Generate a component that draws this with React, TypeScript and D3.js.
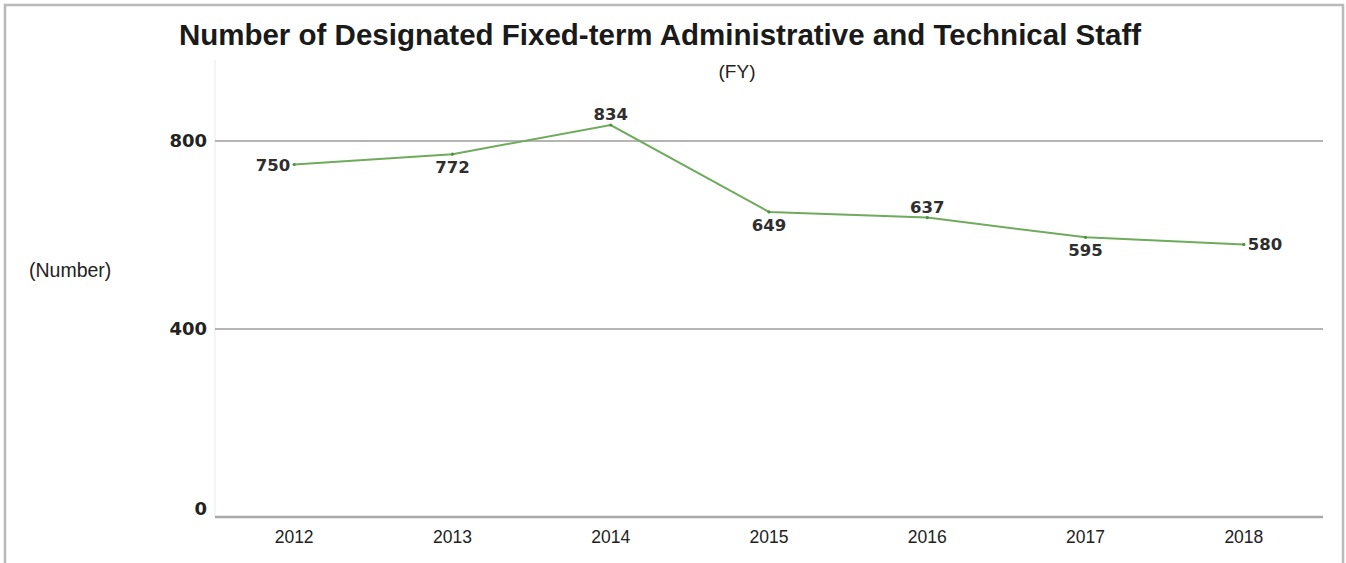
import React from "react";
import * as d3 from "d3";

const years = ["2012", "2013", "2014", "2015", "2016", "2017", "2018"];
const values = [750, 772, 834, 649, 637, 595, 580];
const labelPos = ["left", "below", "above", "below", "above", "below", "right"];
const yTicks = [0, 400, 800];

const W = 1346;
const H = 563;

export default function App() {
  const left = 215;
  const right = 1323;
  const bottom = 517;
  const x = d3.scaleBand<string>().domain(years).range([left, right]);
  const y = d3.scaleLinear().domain([0, 800]).range([bottom, 141]);
  const cx = (d: string) => (x(d) as number) + x.bandwidth() / 2;
  const line = d3
    .line<number>()
    .x((_, i) => cx(years[i]))
    .y((v) => y(v));

  const valFont = { fontFamily: "'DejaVu Sans', sans-serif", fontWeight: 700, fontSize: 16.5, fill: "#2e2e2e" } as const;

  return (
    <svg
      width={W}
      height={H}
      style={{ position: "absolute", left: 0, top: 0, background: "#fff" }}
    >
      <rect x={0} y={0} width={W} height={H} fill="#fff" />
      {/* frame */}
      <path d={`M5,${H + 5} L5,5 L1343,5 L1343,${H + 5}`} fill="none" stroke="#b9b9b9" strokeWidth={2.5} />
      <text
        x={660}
        y={45}
        textAnchor="middle"
        style={{ fontFamily: "'Liberation Sans', Arial, sans-serif", fontWeight: 700, fontSize: 29.5, fill: "#1a1a1a" }}
      >
        Number of Designated Fixed-term Administrative and Technical Staff
      </text>
      <text
        x={737}
        y={78}
        textAnchor="middle"
        style={{ fontFamily: "'Liberation Sans', Arial, sans-serif", fontSize: 19, fill: "#222" }}
      >
        (FY)
      </text>
      <text
        x={29}
        y={277}
        style={{ fontFamily: "'Liberation Sans', Arial, sans-serif", fontSize: 19.5, fill: "#222" }}
      >
        (Number)
      </text>
      {/* faint vertical axis */}
      <line x1={left} x2={left} y1={60} y2={bottom} stroke="#f0f0f0" strokeWidth={1.5} />
      {/* grid lines */}
      {yTicks.map((t) => (
        <g key={t}>
          <line
            x1={left}
            x2={right}
            y1={y(t)}
            y2={y(t)}
            stroke={t === 0 ? "#a9a9ad" : "#9c9c9c"}
            strokeWidth={t === 0 ? 2.5 : 1.5}
          />
          <text
            x={207}
            y={y(t) - (t === 0 ? 8 : 0)}
            dy="0.36em"
            textAnchor="end"
            style={{ fontFamily: "'DejaVu Sans', sans-serif", fontWeight: 700, fontSize: 18, fill: "#222" }}
          >
            {t}
          </text>
        </g>
      ))}
      {/* x labels */}
      {years.map((yr) => (
        <text
          key={yr}
          x={cx(yr)}
          y={543}
          textAnchor="middle"
          style={{ fontFamily: "'Liberation Sans', Arial, sans-serif", fontSize: 17.5, fill: "#222" }}
        >
          {yr}
        </text>
      ))}
      {/* line */}
      <path d={line(values) || ""} fill="none" stroke="#6fab5c" strokeWidth={2} />
      {values.map((v, i) => (
        <circle key={i} cx={cx(years[i])} cy={y(v)} r={1.6} fill="#4f8f42" />
      ))}
      {values.map((v, i) => {
        const px = cx(years[i]);
        const py = y(v);
        const pos = labelPos[i];
        let tx = px;
        let ty = py;
        let anchor: "start" | "middle" | "end" = "middle";
        if (pos === "left") {
          tx = px - 4;
          ty = py + 6;
          anchor = "end";
        } else if (pos === "right") {
          tx = px + 4;
          ty = py + 6;
          anchor = "start";
        } else if (pos === "above") {
          ty = py - 5;
        } else {
          ty = py + 19;
        }
        return (
          <text key={i} x={tx} y={ty} textAnchor={anchor} style={valFont}>
            {v}
          </text>
        );
      })}
    </svg>
  );
}
